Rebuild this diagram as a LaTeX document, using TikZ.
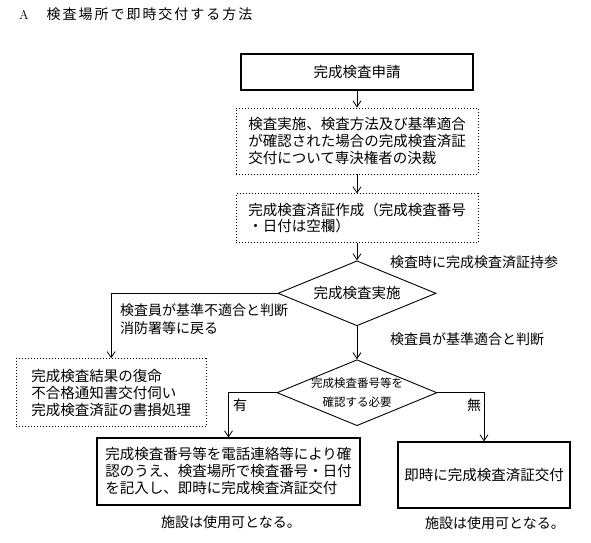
\documentclass[tikz,border=0pt]{standalone}
\usepackage{fontspec}
\newfontfamily\jp{Noto Sans CJK JP}
\newfontfamily\jptitle{Noto Sans CJK JP}[LetterSpace=14]
\usetikzlibrary{shapes.geometric,arrows.meta,positioning}

\begin{document}
\begin{tikzpicture}[x=1pt, y=-1pt,
    node distance=17pt,
    box/.style={rectangle, draw, line width=1.1pt, inner sep=0pt, align=left, font=\jp\fontsize{14.5}{17}\selectfont},
    dotbox/.style={rectangle, draw, line width=0.9pt, dash pattern=on 1pt off 2pt, inner sep=0pt, align=left, font=\jp\fontsize{14.5}{17}\selectfont},
    decision/.style={diamond, draw, line width=0.9pt, inner sep=0pt, aspect=2.43},
    note/.style={inner sep=0pt, align=left, font=\jp\fontsize{14}{18}\selectfont},
    arrow/.style={-{Straight Barb[length=6pt,width=8pt]}, line width=0.8pt}
]
\useasboundingbox (0,0) rectangle (591,542);

% Title
\node[anchor=west, inner sep=0pt, font=\fontsize{13}{15}\selectfont] (title) at (19,14) {A\hspace{18pt}\jptitle\fontsize{14}{15}\selectfont 検査場所で即時交付する方法};

% Main flow
\node[box, align=center, minimum width=232pt, minimum height=36pt] (apply) at (357,72) {完成検査申請};
\node[dotbox, below=17pt of apply, minimum width=242pt, minimum height=66pt] (decide) {検査実施、検査方法及び基準適合\\が確認された場合の完成検査済証\\交付について専決権者の決裁};
\node[dotbox, below=19pt of decide, minimum width=242pt, minimum height=49pt, font=\jp\fontsize{14.5}{16}\selectfont] (cert) {完成検査済証作成（完成検査番号\\・日付は空欄）};
\node[decision, below=17pt of cert, minimum width=158pt, minimum height=65pt,
    label={[font=\jp\fontsize{14.5}{17}\selectfont]center:完成検査実施}] (inspect) {};
\node[decision, below=33pt of inspect, minimum width=160pt, minimum height=66pt,
    label={[align=center, font=\jp\fontsize{11.5}{19}\selectfont]center:完成検査番号等を\\確認する必要}] (need) {};

% Side boxes
\node[dotbox, left=70pt of need, minimum width=190pt, minimum height=68pt] (report) {完成検査結果の復命\\不合格通知書交付伺い\\完成検査済証の書損処理};
\node[box, minimum width=263pt, minimum height=67pt] (confirm) at (228.5,471.5) {完成検査番号等を電話連絡等により確\\認のうえ、検査場所で検査番号・日付\\を記入し、即時に完成検査済証交付};
\node[box, align=center, minimum width=172pt, minimum height=66pt] (issue) at (484,475) {即時に完成検査済証交付};

% Labels
\node[note, anchor=west] (bring) at (390,262) {検査時に完成検査済証持参};
\node[note, anchor=west] (fail) at (120,319) {検査員が基準不適合と判断\\消防署等に戻る};
\node[note, anchor=west] (pass) at (390,339) {検査員が基準適合と判断};
\node[note] (yes) at (240,405) {有};
\node[note] (no) at (474,405) {無};
\node[note] (use1) at (231,522) {施設は使用可となる。};
\node[note] (use2) at (495,523) {施設は使用可となる。};

% Arrows - main flow
\draw[arrow] (apply) -- (decide);
\draw[arrow] (decide) -- (cert);
\draw[arrow] (cert) -- (inspect);
\draw[arrow] (inspect) -- (need);

% Branches
\draw[arrow] (inspect.west) -| (report.north);
\draw[arrow] (need.west) -| (confirm.north);
\draw[arrow] (need.east) -| (issue.north);

\end{tikzpicture}
\end{document}
